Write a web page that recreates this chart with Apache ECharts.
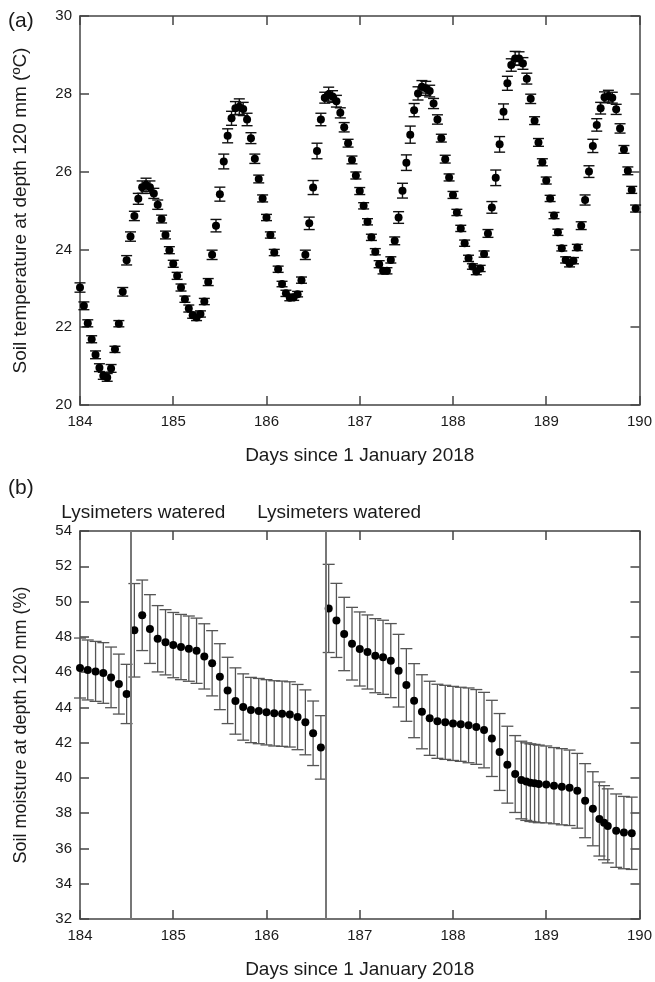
<!DOCTYPE html>
<html>
<head>
<meta charset="utf-8">
<script src="https://cdn.jsdelivr.net/npm/echarts@6/dist/echarts.min.js"></script>
<style>
  html, body { margin: 0; padding: 0; background: #fff; }
  #chart { width: 655px; height: 982px; }
</style>
</head>
<body>
<div id="chart"></div>
<script>
// (a) soil temperature, hourly readings starting at day 184
const tempStartDay = 184;
const tempStepDays = 1 / 24;
const tempValues = [
  23.02, 22.55, 22.10, 21.69, 21.29, 20.96, 20.75, 20.71, 20.94, 21.43, 22.09, 22.91, 23.72, 24.33, 24.86, 25.30, 25.60, 25.66, 25.60, 25.44, 25.15, 24.78, 24.37, 23.98,
  23.63, 23.32, 23.02, 22.72, 22.48, 22.31, 22.25, 22.34, 22.66, 23.16, 23.86, 24.61, 25.42, 26.26, 26.92, 27.37, 27.63, 27.67, 27.61, 27.34, 26.86, 26.33, 25.81, 25.31,
  24.82, 24.37, 23.92, 23.49, 23.11, 22.87, 22.76, 22.77, 22.85, 23.21, 23.86, 24.67, 25.59, 26.53, 27.34, 27.90, 27.99, 27.93, 27.81, 27.51, 27.14, 26.73,
  26.30, 25.90, 25.50, 25.12, 24.71, 24.31, 23.94, 23.62, 23.45, 23.45, 23.73, 24.22, 24.82, 25.51, 26.23, 26.95, 27.58, 28.01, 28.18, 28.14, 28.07, 27.75, 27.34, 26.86, 26.32, 25.85,
  25.40, 24.95, 24.54, 24.16, 23.77, 23.56, 23.43, 23.51, 23.88, 24.41, 25.08, 25.84, 26.70, 27.54, 28.27, 28.74, 28.91, 28.91, 28.78, 28.39, 27.87, 27.31, 26.75, 26.24,
  25.77, 25.31, 24.87, 24.44, 24.03, 23.73, 23.64, 23.71, 24.05, 24.61, 25.27, 26.00, 26.66, 27.20, 27.63, 27.91, 27.94, 27.90, 27.60, 27.11, 26.57, 26.02, 25.53, 25.05
];
const tempErrors = [
  0.12, 0.10, 0.09, 0.09, 0.10, 0.10, 0.09, 0.10, 0.10, 0.08, 0.08,
  0.11, 0.12, 0.12, 0.12, 0.14, 0.16, 0.17, 0.16,
  0.13, 0.12, 0.10, 0.10, 0.09, 0.09, 0.09, 0.09, 0.08, 0.09, 0.08, 0.08, 0.08,
  0.08, 0.09, 0.12, 0.16, 0.18, 0.19, 0.18, 0.18, 0.17, 0.20, 0.17,
  0.16, 0.14, 0.12, 0.10, 0.09, 0.08, 0.08, 0.08, 0.08, 0.07, 0.08, 0.08, 0.08,
  0.07, 0.08, 0.12, 0.16, 0.18, 0.20, 0.16, 0.14, 0.18, 0.15, 0.15,
  0.13, 0.12, 0.10, 0.10, 0.09, 0.09, 0.08, 0.08, 0.08, 0.08, 0.09, 0.08, 0.08,
  0.08, 0.10, 0.15, 0.19, 0.20, 0.22, 0.17, 0.17, 0.16, 0.18, 0.15, 0.13,
  0.12, 0.10, 0.10, 0.09, 0.09, 0.08, 0.08, 0.08, 0.08, 0.07, 0.08, 0.08,
  0.08, 0.10, 0.15, 0.20, 0.20, 0.20, 0.18, 0.16, 0.18, 0.17, 0.15, 0.14,
  0.12, 0.10, 0.10, 0.09, 0.09, 0.08, 0.08, 0.08, 0.07, 0.08, 0.09, 0.08,
  0.08, 0.10, 0.13, 0.15, 0.17, 0.16, 0.15, 0.14, 0.15, 0.14, 0.13, 0.12, 0.10, 0.10, 0.09, 0.09
];

// (b) soil moisture
const moistDays = [
  184.000, 184.083, 184.167, 184.250, 184.333, 184.417, 184.500,
  184.583, 184.667, 184.750, 184.833, 184.917, 185.000, 185.083, 185.167, 185.250, 185.333, 185.417,
  185.500, 185.583, 185.667, 185.750, 185.833, 185.917, 186.000, 186.083, 186.167, 186.250, 186.333,
  186.417, 186.500, 186.583,
  186.667, 186.750, 186.833, 186.917, 187.000, 187.083, 187.167, 187.250, 187.333, 187.417, 187.500,
  187.583, 187.667, 187.750, 187.833, 187.917, 188.000, 188.083, 188.167, 188.250, 188.333, 188.417,
  188.500, 188.583, 188.667, 188.733, 188.786, 188.830, 188.875, 188.920, 189.000, 189.083, 189.167,
  189.250, 189.333, 189.417, 189.500, 189.570, 189.620, 189.660, 189.750, 189.833, 189.917
];
const moistValues = [
  46.23, 46.12, 46.04, 45.95, 45.70, 45.32, 44.76,
  48.37, 49.22, 48.44, 47.89, 47.69, 47.53, 47.42, 47.33, 47.21, 46.89, 46.50,
  45.74, 44.96, 44.36, 44.02, 43.85, 43.79, 43.72, 43.66, 43.64, 43.60, 43.45,
  43.15, 42.53, 41.73,
  49.61, 48.93, 48.16, 47.61, 47.31, 47.14, 46.93, 46.84, 46.65, 46.08, 45.27,
  44.38, 43.75, 43.38, 43.21, 43.15, 43.09, 43.04, 42.98, 42.89, 42.71, 42.24,
  41.47, 40.75, 40.22, 39.88, 39.79, 39.73, 39.70, 39.66, 39.63, 39.56, 39.50,
  39.44, 39.27, 38.71, 38.25, 37.67, 37.46, 37.28, 37.01, 36.90, 36.86
];
const moistErrors = [
  1.70, 1.70, 1.70, 1.72, 1.72, 1.70, 1.68,
  2.65, 2.00, 1.95, 1.88, 1.85, 1.85, 1.85, 1.85, 1.85, 1.85, 1.85,
  1.87, 1.88, 1.88, 1.88, 1.85, 1.85, 1.85, 1.85, 1.85, 1.85, 1.85,
  1.84, 1.83, 1.80,
  2.50, 2.10, 2.08, 2.06, 2.10, 2.10, 2.10, 2.10, 2.10, 2.06, 2.06,
  2.10, 2.10, 2.10, 2.10, 2.10, 2.10, 2.10, 2.12, 2.12, 2.14, 2.16,
  2.18, 2.18, 2.18, 2.20, 2.20, 2.20, 2.20, 2.20, 2.18, 2.16, 2.16,
  2.14, 2.12, 2.10, 2.10, 2.10, 2.10, 2.10, 2.08, 2.05, 2.05
];
const wateredDays = [184.54, 186.64];

const xTicks = { min: 184, max: 190, interval: 1 };
const tempAxis = { min: 20, max: 30, interval: 2 };
const moistAxis = { min: 32, max: 54, interval: 2 };

const FONT = 'Liberation Sans, Arial, sans-serif';
const INK = '#1a1a1a';
const FRAME = '#444';

const tempData = tempValues.map((v, i) => [tempStartDay + i * tempStepDays, v, tempErrors[i]]);
const moistData = moistValues.map((v, i) => [moistDays[i], v, moistErrors[i]]);

function errorBars(capHalf, color, width) {
  return function (params, api) {
    const x = api.value(0), y = api.value(1), e = api.value(2);
    const hi = api.coord([x, y + e]);
    const lo = api.coord([x, y - e]);
    const style = { stroke: color, lineWidth: width, fill: null };
    return {
      type: 'group',
      children: [
        { type: 'line', shape: { x1: hi[0], y1: hi[1], x2: lo[0], y2: lo[1] }, style },
        { type: 'line', shape: { x1: hi[0] - capHalf, y1: hi[1], x2: hi[0] + capHalf, y2: hi[1] }, style },
        { type: 'line', shape: { x1: lo[0] - capHalf, y1: lo[1], x2: lo[0] + capHalf, y2: lo[1] }, style }
      ]
    };
  };
}

function bottomX(gridIndex) {
  return {
    type: 'value', gridIndex, position: 'bottom',
    min: xTicks.min, max: xTicks.max, interval: xTicks.interval,
    name: 'Days since 1 January 2018', nameLocation: 'middle', nameGap: 41,
    nameTextStyle: { fontFamily: FONT, fontSize: 19, color: INK },
    axisLine: { show: true, lineStyle: { color: FRAME, width: 1.5 } },
    axisTick: { show: true, inside: true, length: 9, lineStyle: { color: FRAME, width: 1.5 } },
    axisLabel: { fontFamily: FONT, fontSize: 15, color: INK, margin: 9 },
    splitLine: { show: false }
  };
}
function topX(gridIndex) {
  return {
    type: 'value', gridIndex, position: 'top',
    min: xTicks.min, max: xTicks.max, interval: xTicks.interval,
    axisLine: { show: true, lineStyle: { color: FRAME, width: 1.5 } },
    axisTick: { show: true, inside: true, length: 9, lineStyle: { color: FRAME, width: 1.5 } },
    axisLabel: { show: false },
    splitLine: { show: false }
  };
}
function leftY(gridIndex, range, title, titleSize) {
  return {
    type: 'value', gridIndex, position: 'left',
    min: range.min, max: range.max, interval: range.interval,
    name: title, nameLocation: 'middle', nameGap: 50,
    nameTextStyle: { fontFamily: FONT, fontSize: titleSize, color: INK },
    axisLine: { show: true, lineStyle: { color: FRAME, width: 1.5 } },
    axisTick: { show: true, inside: true, length: 9, lineStyle: { color: FRAME, width: 1.5 } },
    axisLabel: { fontFamily: FONT, fontSize: 15, color: INK, margin: 8 },
    splitLine: { show: false }
  };
}
function rightY(gridIndex, range) {
  return {
    type: 'value', gridIndex, position: 'right',
    min: range.min, max: range.max, interval: range.interval,
    axisLine: { show: true, lineStyle: { color: FRAME, width: 1.5 } },
    axisTick: { show: true, inside: true, length: 9, lineStyle: { color: FRAME, width: 1.5 } },
    axisLabel: { show: false },
    splitLine: { show: false }
  };
}

const chart = echarts.init(document.getElementById('chart'), null, { renderer: 'canvas' });
chart.setOption({
  backgroundColor: '#fff',
  animation: false,
  title: [
    { text: '(a)', left: 8, top: 11, padding: 0, textStyle: { fontFamily: FONT, fontSize: 21, fontWeight: 'normal', color: INK } },
    { text: '(b)', left: 8, top: 478, padding: 0, textStyle: { fontFamily: FONT, fontSize: 21, fontWeight: 'normal', color: INK } }
  ],
  grid: [
    { left: 80, right: 15, top: 16, height: 389 },
    { left: 80, right: 15, top: 531, height: 388 }
  ],
  xAxis: [bottomX(0), topX(0), bottomX(1), topX(1)],
  yAxis: [
    leftY(0, tempAxis, 'Soil temperature at depth 120 mm (ºC)', 19),
    rightY(0, tempAxis),
    leftY(1, moistAxis, 'Soil moisture at depth 120 mm (%)', 18),
    rightY(1, moistAxis)
  ],
  series: [
    {
      type: 'custom', xAxisIndex: 0, yAxisIndex: 0,
      renderItem: errorBars(5.5, '#111', 1.4),
      encode: { x: 0, y: 1 },
      data: tempData, z: 2
    },
    {
      type: 'scatter', xAxisIndex: 0, yAxisIndex: 0,
      symbolSize: 8, itemStyle: { color: '#000', opacity: 1 },
      data: tempData.map(d => [d[0], d[1]]), z: 3
    },
    {
      type: 'custom', xAxisIndex: 2, yAxisIndex: 2,
      renderItem: errorBars(6, '#555', 1.3),
      encode: { x: 0, y: 1 },
      data: moistData, z: 2
    },
    {
      type: 'scatter', xAxisIndex: 2, yAxisIndex: 2,
      symbolSize: 8, itemStyle: { color: '#000', opacity: 1 },
      data: moistData.map(d => [d[0], d[1]]), z: 3,
      markLine: {
        silent: true, symbol: 'none', animation: false,
        lineStyle: { color: '#777', width: 2, type: 'solid' },
        label: {
          show: true, position: 'end', distance: 9, offset: [13, 0],
          formatter: 'Lysimeters watered',
          fontFamily: FONT, fontSize: 19, color: INK
        },
        data: wateredDays.map(d => ({ xAxis: d }))
      }
    }
  ]
});
</script>
</body>
</html>
